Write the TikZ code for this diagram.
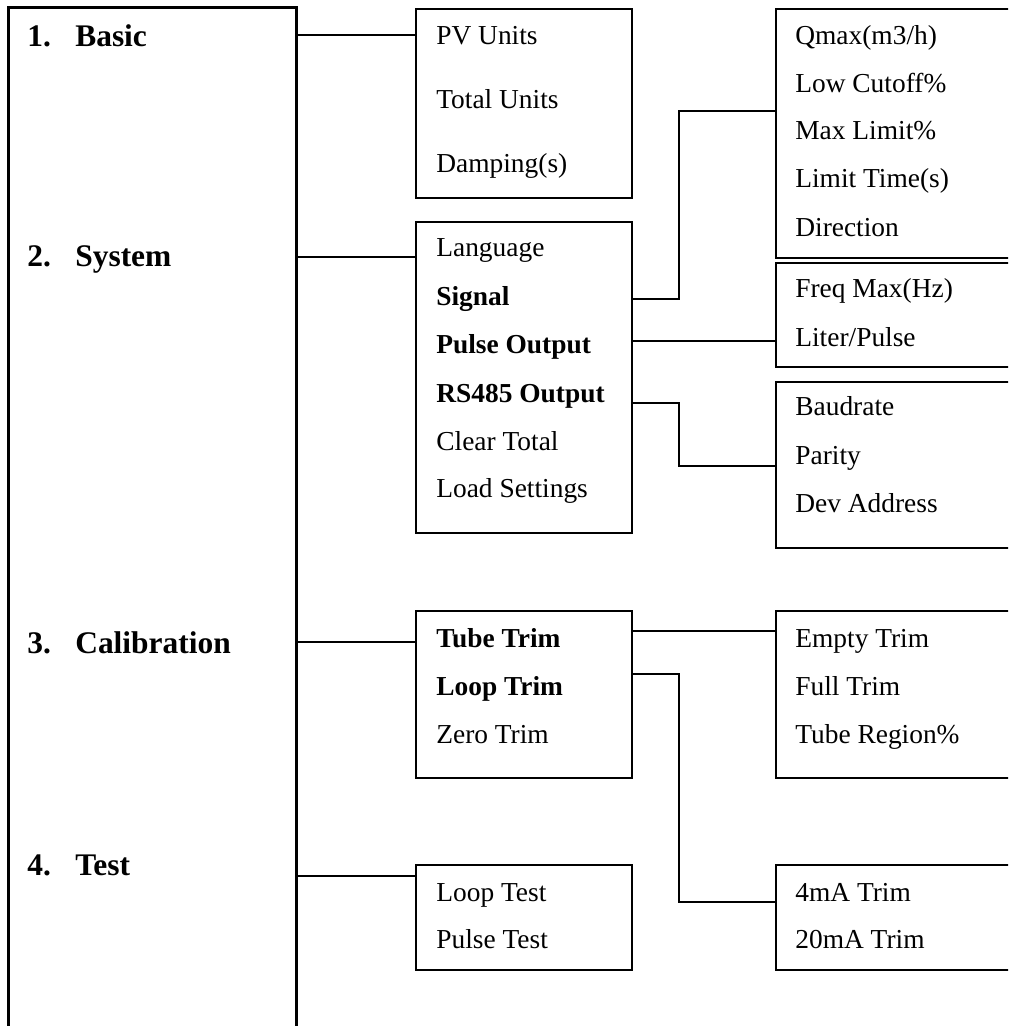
\documentclass[tikz,border=0pt]{standalone}
\usepackage{fontspec}
\setmainfont{Liberation Serif}
\usepackage{tikz}
\usetikzlibrary{positioning}
\tikzset{box/.style 2 args={draw,line width=1.2pt,anchor=north west,inner sep=0pt,
           minimum width=#1*0.02cm,minimum height=#2*0.02cm},
         item/.style={anchor=base west,inner sep=0pt,font=\fontsize{15.6pt}{18pt}\selectfont},
         head/.style={anchor=base west,inner sep=0pt,font=\fontsize{17.9pt}{20pt}\selectfont\bfseries},
         link/.style={line width=1.2pt}}
\newcommand{\hd}[2]{\makebox[0.96cm][l]{#1}#2}

\begin{document}
\begin{tikzpicture}[x=0.02cm,y=-0.02cm]
\useasboundingbox (0,0) rectangle (1008,1026);
\clip (0,0) rectangle (1008,1026);
% menu column
\node[box={288}{1100},line width=1.5pt] (menu) at (7,6) {};
\node[head] (basic) at (27,47) {\hd{1.}{Basic}};
\node[head] (system) at (27,267) {\hd{2.}{System}};
\node[head] (calib) at (27,653) {\hd{3.}{Calibration}};
\node[head] (test) at (27,875) {\hd{4.}{Test}};
% second column
\node[box={216}{189}] (basicbox) at (415,8) {};
\node[box={216}{311}] (sysbox) at (415,221) {};
\node[box={216}{167}] (calbox) at (415,610) {};
\node[box={216}{105}] (testbox) at (415,864) {};
\node[item] (pv) at (436,45) {PV Units};
\node[item] (total) at (436,109) {Total Units};
\node[item] (damp) at (436,173) {Damping(s)};
\node[item] (lang) at (436,257) {Language};
\node[item] (signal) at (436,306) {\textbf{Signal}};
\node[item] (pulse) at (436,354) {\textbf{Pulse Output}};
\node[item] (rs) at (436,402) {\textbf{RS485 Output}};
\node[item] (clear) at (436,450) {Clear Total};
\node[item] (load) at (436,497) {Load Settings};
\node[item] (tube) at (436,647) {\textbf{Tube Trim}};
\node[item] (loop) at (436,695) {\textbf{Loop Trim}};
\node[item] (zero) at (436,743) {Zero Trim};
\node[item] (looptest) at (436,901) {Loop Test};
\node[item] (pulsetest) at (436,948) {Pulse Test};
% third column
\node[box={260}{249}] (signalbox) at (775,8) {};
\node[box={260}{104}] (pulsebox) at (775,262) {};
\node[box={260}{166}] (rsbox) at (775,381) {};
\node[box={260}{167}] (tubebox) at (775,610) {};
\node[box={260}{105}] (loopbox) at (775,864) {};
\node[item] (qmax) at (795,45) {Qmax(m3/h)};
\node[item] (cutoff) at (795,93) {Low Cutoff\%};
\node[item] (maxlim) at (795,140) {Max Limit\%};
\node[item] (limtime) at (795,188) {Limit Time(s)};
\node[item] (dir) at (795,237) {Direction};
\node[item] (freq) at (795,298) {Freq Max(Hz)};
\node[item] (liter) at (795,347) {Liter/Pulse};
\node[item] (baud) at (795,416) {Baudrate};
\node[item] (parity) at (795,464) {Parity};
\node[item] (addr) at (795,512) {Dev Address};
\node[item] (empty) at (795,647) {Empty Trim};
\node[item] (full) at (795,695) {Full Trim};
\node[item] (region) at (795,743) {Tube Region\%};
\node[item] (fourma) at (795,901) {4mA Trim};
\node[item] (twentyma) at (795,948) {20mA Trim};
% connectors
\path[link]
(menu.east |- 0,35) edge (basicbox.west |- 0,35)
(menu.east |- 0,257) edge (sysbox.west |- 0,257)
(menu.east |- 0,642) edge (calbox.west |- 0,642)
(menu.east |- 0,876) edge (testbox.west |- 0,876)
(sysbox.east |- 0,341) edge (pulsebox.west |- 0,341)
(calbox.east |- 0,631) edge (tubebox.west |- 0,631);
\draw[link] (sysbox.east |- 0,299) -| (679,111) -- (signalbox.west |- 0,111);
\draw[link] (sysbox.east |- 0,403) -| (679,466) -- (rsbox.west |- 0,466);
\draw[link] (calbox.east |- 0,674) -| (679,902) -- (loopbox.west |- 0,902);
\end{tikzpicture}
\end{document}
